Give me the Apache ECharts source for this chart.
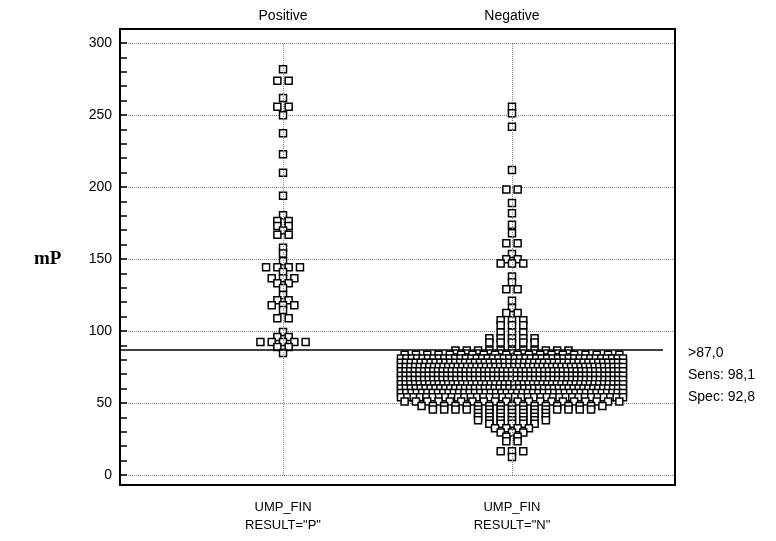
<!DOCTYPE html>
<html><head><meta charset="utf-8">
<script src="https://cdn.jsdelivr.net/npm/echarts@6/dist/echarts.min.js"></script>
<style>html,body{margin:0;padding:0;background:#fff}#c{width:776px;height:541px}</style>
</head><body><div id="c"></div>
<script>
// ---------- data ----------
const groups = ['Positive', 'Negative'];
const axisLabels = ['UMP_FIN\nRESULT="P"', 'UMP_FIN\nRESULT="N"'];
const yTicks = [0, 50, 100, 150, 200, 250, 300];
const cutoff = 87.0;
const cutoffText = ['>87,0', 'Sens: 98,1', 'Spec: 92,8'];
const yName = 'mP';

// Positive group: value levels and number of dots at each level
const posLevels = [282, 274, 262, 256, 250, 237.5, 223, 210, 194, 180.5, 176.5, 173, 170, 167, 158, 154, 148.6, 144.4, 141, 136.8, 133.3, 130, 125, 121.5, 118, 114.6, 109, 99.3, 95.8, 92.4, 88.9, 84.7];
const posCounts = [1, 2, 1, 2, 1, 1, 1, 1, 1, 1, 2, 2, 1, 2, 1, 1, 1, 4, 1, 3, 2, 1, 1, 2, 3, 1, 2, 1, 2, 5, 2, 1];

// Negative group
const negLevels = [256, 251.5, 242, 212, 198.5, 189, 182, 174, 168, 161, 153.5, 150, 147, 138, 134, 129, 121, 116, 112.5, 107.5, 104, 99, 95, 92, 86.5, 83.5, 81, 78, 75, 72, 69, 66, 63, 60, 57, 54, 51, 48, 45.5, 43, 40.5, 38, 35.5, 32.5, 29.5, 26.5, 23.5, 16.5, 12.5];
const negCounts = [1, 1, 1, 1, 2, 1, 1, 1, 1, 2, 1, 2, 3, 1, 1, 2, 1, 1, 2, 3, 3, 3, 5, 5, 11, 20, 42, 46, 48, 49, 49, 49, 48, 46, 43, 36, 20, 17, 15, 7, 7, 7, 5, 4, 3, 2, 2, 3, 1];

// ---------- layout ----------
const W = 776, H = 541;
const gLeft = 120, gRight = 101, gTop = 29, gBottom = 56;
const xMin = 0.288, xMax = 2.712;
const yMin = -7, yMax = 310;
const pxPerUnit = (W - gLeft - gRight) / (xMax - xMin);
const pitchPx = 11.3, maxHalfPx = 111;

function dotLayout(levels, counts, center) {
  const pts = [];
  levels.forEach((v, i) => {
    const n = counts[i];
    let pitch = pitchPx;
    if (n > 1 && (n - 1) * pitch / 2 > maxHalfPx) pitch = 2 * maxHalfPx / (n - 1);
    for (let k = 0; k < n; k++) {
      const off = (k - (n - 1) / 2) * pitch;
      pts.push([center + off / pxPerUnit, v]);
    }
  });
  return pts;
}
const points = dotLayout(posLevels, posCounts, 1).concat(dotLayout(negLevels, negCounts, 2));

const font = 'Liberation Sans, Arial, sans-serif';
const chart = echarts.init(document.getElementById('c'), null, {renderer: 'canvas'});
chart.setOption({
  animation: false,
  backgroundColor: '#fff',
  grid: [
    {left: gLeft, right: gRight, top: gTop, bottom: gBottom, show: true, borderColor: '#000', borderWidth: 2, backgroundColor: 'transparent', z: 10},
    {left: gLeft, right: gRight, top: 43, bottom: 66, show: false}
  ],
  xAxis: [
    {gridIndex: 0, type: 'value', min: xMin, max: xMax, position: 'bottom',
     axisLine: {show: false}, axisTick: {show: false}, splitLine: {show: false},
     axisLabel: {customValues: [1, 2], formatter: v => axisLabels[Math.round(v) - 1] || '',
       fontFamily: font, fontSize: 13, color: '#000', margin: 13, lineHeight: 18}},
    {gridIndex: 0, type: 'value', min: xMin, max: xMax, position: 'top',
     axisLine: {show: false}, axisTick: {show: false}, splitLine: {show: false},
     axisLabel: {customValues: [1, 2], formatter: v => groups[Math.round(v) - 1] || '',
       fontFamily: font, fontSize: 14, color: '#000', margin: 6}},
    {gridIndex: 1, type: 'value', min: xMin, max: xMax, show: false}
  ],
  yAxis: [
    {gridIndex: 0, type: 'value', min: yMin, max: yMax, show: false},
    {gridIndex: 1, type: 'value', min: yTicks[0], max: yTicks[yTicks.length - 1], interval: 50,
     axisLine: {show: false},
     axisTick: {show: true, inside: true, length: 7, lineStyle: {color: '#000', width: 1.5}},
     minorTick: {show: true, splitNumber: 5, length: 7, lineStyle: {color: '#000', width: 1.5}},
     axisLabel: {fontFamily: font, fontSize: 14, color: '#000', margin: 8},
     splitLine: {show: true, lineStyle: {color: '#777', width: 1, type: [1, 1]}}}
  ],
  series: [
    {type: 'scatter', xAxisIndex: 2, yAxisIndex: 1, data: [], silent: true, z: 1,
     markLine: {silent: true, symbol: ['none', 'none'], label: {show: false},
       lineStyle: {color: '#888', width: 1, type: [1, 1]},
       data: [{xAxis: 1}, {xAxis: 2}]}},
    {type: 'scatter', xAxisIndex: 0, yAxisIndex: 0, data: points, silent: true, z: 3,
     symbol: 'rect', symbolSize: 7, large: false, progressive: 0,
     itemStyle: {color: '#fff', borderColor: '#000', borderWidth: 1.5, opacity: 1},
     markLine: {silent: true, symbol: ['none', 'none'], label: {show: false}, z: 4,
       lineStyle: {color: '#000', width: 1.5, type: 'solid'},
       data: [[{coord: [xMin, cutoff]}, {coord: [xMax - 12 / pxPerUnit, cutoff]}]]}}
  ],
  graphic: [
    {type: 'text', left: 34, top: 250, style: {text: yName, fontFamily: 'Liberation Serif, Times New Roman, serif', fontWeight: 'bold', fontSize: 19, fill: '#000'}},
    {type: 'text', left: 688, top: 342, style: {text: cutoffText.join('\n'), fontFamily: font, fontSize: 14, lineHeight: 22, fill: '#000'}}
  ]
});
</script></body></html>
